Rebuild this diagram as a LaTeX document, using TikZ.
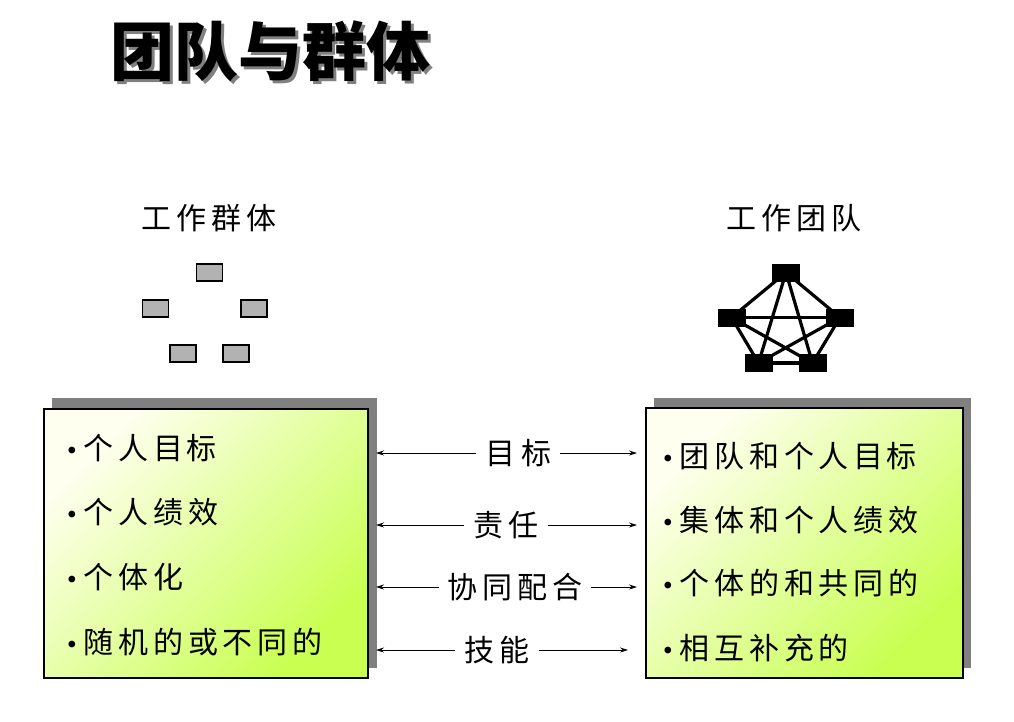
\documentclass[tikz,border=0pt]{standalone}
\usepackage{fontspec}
\newfontfamily\cjk{Noto Sans CJK SC}[LetterSpace=16]
\newfontfamily\cjkplain{Noto Sans CJK SC}
\newcommand\bul{\raisebox{1pt}{\normalfont\fontsize{30}{30}\selectfont\textbullet}\hspace{1pt}}
\usetikzlibrary{arrows.meta,backgrounds}
\definecolor{shadowgray}{RGB}{128,128,128}
\definecolor{boxgray}{RGB}{178,178,178}
\definecolor{paleC}{RGB}{255,255,240}
\definecolor{midC}{RGB}{238,252,180}
\definecolor{greenC}{RGB}{200,255,80}
\begin{document}
\begin{tikzpicture}[x=1pt,y=-1pt,
  txt/.style={font=\cjk\fontsize{30}{32}\selectfont, inner sep=0pt},
  item/.style={txt, anchor=west},
  midlab/.style={txt, inner xsep=9pt},
  gbox/.style={draw=black, line width=1.6pt, fill=boxgray, minimum width=26pt, minimum height=17pt, inner sep=0pt},
  nbox/.style={fill=black, minimum width=28pt, minimum height=18pt, inner sep=0pt},
  link/.style={line width=3.2pt},
  panel/.style={draw=black, line width=1.5pt, inner sep=0pt, anchor=north west,
    top color=paleC, middle color=midC, bottom color=greenC, shading angle=45},
  shade box/.style={fill=shadowgray},
  arr/.style={-{Stealth[length=8pt,width=5pt]}, line width=0.8pt}
]
\useasboundingbox (0,0) rectangle (1014,721);

% title with drop shadow
\node[font=\cjkplain\bfseries\fontsize{64}{66}\selectfont, text=gray] (titleshadow) at (273,54) {团队与群体};
\node[font=\cjkplain\bfseries\fontsize{64}{66}\selectfont] (title) at (270,51) {团队与群体};

% headers
\node[txt] (hleft) at (209,218) {工作群体};
\node[txt] (hright) at (794,218) {工作团队};

% work group: separate boxes
\node[gbox] (g1) at (209.5,272.5) {};
\node[gbox] (g2) at (155.5,308.5) {};
\node[gbox] (g3) at (254,308.5) {};
\node[gbox] (g4) at (182.7,353.5) {};
\node[gbox] (g5) at (236,353.5) {};

% work team: fully connected network
\node[nbox] (t1) at (786,272.5) {};
\node[nbox] (t2) at (731.5,317.5) {};
\node[nbox] (t3) at (840,317.5) {};
\node[nbox] (t4) at (758.5,363) {};
\node[nbox] (t5) at (812.5,363) {};
\begin{scope}[on background layer]
  \draw[link] (t1.center) -- (t2.center);
  \draw[link] (t1.center) -- (t3.center);
  \draw[link] (t1.center) -- (t4.center);
  \draw[link] (t1.center) -- (t5.center);
  \draw[link] (t2.center) -- (t3.center);
  \draw[link] (t2.center) -- (t4.center);
  \draw[link] (t2.center) -- (t5.center);
  \draw[link] (t3.center) -- (t4.center);
  \draw[link] (t3.center) -- (t5.center);
  \draw[link] (t4.center) -- (t5.center);
\end{scope}

% panels with shadows
\fill[shade box] (52,398) rectangle (377,668);
\fill[shade box] (654,398) rectangle (971,668);
\node[panel, minimum width=324pt, minimum height=269pt] (L) at (43,408) {};
\node[panel, minimum width=317pt, minimum height=270pt] (R) at (645,407) {};

% left items
\node[item] (l1) at (61,448) {\bul 个人目\hspace{3pt}标};
\node[item] (l2) at (61,512) {\bul 个人绩效};
\node[item] (l3) at (61,577) {\bul 个体化};
\node[item] (l4) at (61,642) {\bul 随机的或不同的};

% right items
\node[item] (r1) at (657,456) {\bul 团队和个人目\hspace{3pt}标};
\node[item] (r2) at (657,520) {\bul 集体和个人绩效};
\node[item] (r3) at (657,583) {\bul 个体的和共同的};
\node[item] (r4) at (657,648) {\bul 相互补充的};

% middle arrows
\node[midlab] (m1) at (518,453) {目\hspace{6pt}标};
\node[midlab] (m2) at (506,525) {责任};
\node[midlab] (m3) at (515,587) {协同配合};
\node[midlab] (m4) at (497,650) {技能};
\coordinate (a1l) at (376,453); \coordinate (a1r) at (637,453);
\coordinate (a2l) at (376,525); \coordinate (a2r) at (637,525);
\coordinate (a3l) at (376,587); \coordinate (a3r) at (637,587);
\coordinate (a4l) at (376,650); \coordinate (a4r) at (628,650);
\draw[arr] (m1.west) -- (a1l);
\draw[arr] (m1.east) -- (a1r);
\draw[arr] (m2.west) -- (a2l);
\draw[arr] (m2.east) -- (a2r);
\draw[arr] (m3.west) -- (a3l);
\draw[arr] (m3.east) -- (a3r);
\draw[arr] (m4.west) -- (a4l);
\draw[arr] (m4.east) -- (a4r);
\end{tikzpicture}
\end{document}
